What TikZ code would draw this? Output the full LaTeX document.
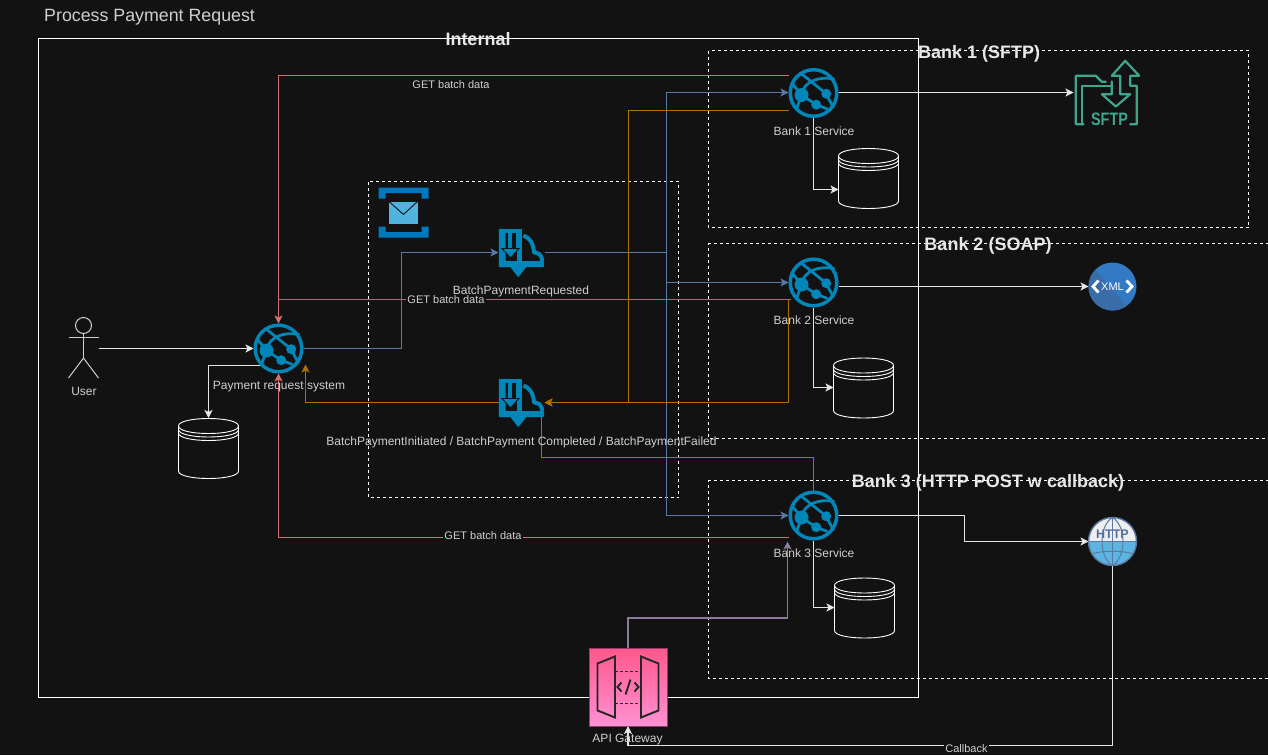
\documentclass[tikz,border=0pt]{standalone}
\usepackage{fontspec}
\setmainfont{Liberation Sans}
\usetikzlibrary{arrows.meta,calc}
\definecolor{bg}{HTML}{121212}
\definecolor{wline}{HTML}{E6E6E6}
\definecolor{lbl}{HTML}{CFCFCF}
\definecolor{grpc}{HTML}{E8E8E8}
\definecolor{redl}{HTML}{D07070}
\definecolor{redp}{HTML}{A8697A}
\definecolor{bluel}{HTML}{5A78A6}
\definecolor{orl}{HTML}{B07000}
\definecolor{purl}{HTML}{8C7C9C}
\definecolor{azure}{HTML}{0086B8}
\definecolor{grn}{HTML}{3FA58C}
\definecolor{gwedge}{HTML}{963C69}
\definecolor{gwtop}{HTML}{FF588C}
\definecolor{gwbot}{HTML}{FF91D2}
\definecolor{qdark}{HTML}{0078BE}
\definecolor{qlight}{HTML}{50B4DE}
\definecolor{xmla}{HTML}{327AC4}
\definecolor{xmlb}{HTML}{3A6CA8}
\definecolor{httpw}{HTML}{EEEEF0}
\definecolor{httpb}{HTML}{5CB4E2}
\definecolor{httpl}{HTML}{5C7AA0}
\definecolor{httpt}{HTML}{52709B}
\definecolor{gwink}{HTML}{262626}
\tikzset{
  x=1pt,y=-1pt,
  anchorbox/.style={inner sep=0pt,outer sep=0pt,minimum width=#1pt,minimum height=#1pt},
  tip/.style={-{Stealth[length=8pt,width=8pt,inset=2pt]}},
  conn/.style={line width=1.25pt},
  wconn/.style={conn,wline,tip},
  lab/.style={text=lbl,font=\fontsize{12}{14}\selectfont,inner sep=0pt},
  smalllab/.style={text=lbl,font=\fontsize{11}{12}\selectfont,inner sep=1pt,fill=bg},
  grp/.style={text=grpc,font=\bfseries\fontsize{18}{20}\selectfont,inner sep=0pt},
  dashbox/.style={draw=white,line width=1pt,dash pattern=on 3pt off 3pt},
}
\newcommand{\globeicon}[1]{%
  \begin{scope}[shift={(#1)},azure,line width=2.8pt]
    \draw[line width=3.5pt,fill=bg] (0,0) circle (23.3);
    \draw (-13,-20) -- (12.7,0.7) -- (20,15);
    \draw (-12,2) .. controls (-10,-12) and (6,-17) .. (21,-14);
    \draw (-21,-9) -- (-12,2) -- (-17,16);
    \draw (-12,2) -- (2.7,11.7) -- (14,16);
    \fill (-12,2) circle (7);
    \fill (12.7,0.7) circle (5);
    \fill (2.7,11.7) circle (5);
  \end{scope}}
\newcommand{\dbicon}[1]{%
  \begin{scope}[shift={(#1)},white,line width=0.9pt]
    \draw[fill=bg] (-30,-22) .. controls (-30,-32) and (30,-32) .. (30,-22) -- (30,23)
       .. controls (30,33) and (-30,33) .. (-30,23) -- cycle;
    \draw (-30,-22) .. controls (-30,-12) and (30,-12) .. (30,-22);
    \draw (-30,-18.5) .. controls (-30,-8.5) and (30,-8.5) .. (30,-18.5);
    \draw (-30,-15) .. controls (-30,-5) and (30,-5) .. (30,-15);
  \end{scope}}
\newcommand{\eventicon}[1]{%
  \begin{scope}[shift={(#1)},azure]
    \fill[bg] (-22.7,-23.7) rectangle (1,14.7);
    \fill[rounded corners=1pt] (-22.7,-23.7) rectangle (-16,14.7);
    \fill (-22.7,-23.7) rectangle (0.7,-19.5);
    \fill[rounded corners=1pt] (-22.7,8.7) rectangle (22.5,14.7);
    \fill (-6,-23.7) rectangle (0.7,-5);
    \fill (-4.3,-5) rectangle (0.7,16);
    \fill (-11,14.7) -- (4.7,14.7) -- (-3.3,24.7) -- cycle;
    \fill[bg] (-15,-19.5) rectangle (-8,-5);
    \fill (-13.7,-23.7) rectangle (-9.3,-4);
    \draw[bg,line width=0.9pt,fill=azure,line join=miter] (-19.5,-4) -- (-2.5,-4) -- (-11,5.5) -- cycle;
    \draw[line width=4pt,line join=round] (2,-17) .. controls (8,-15) and (12,-9) .. (12.5,0) .. controls (16,0) and (21,2) .. (20.5,9);
  \end{scope}}
\begin{document}
\begin{tikzpicture}
\useasboundingbox (0,0) rectangle (1268,755);
\fill[bg] (0,0) rectangle (1268,755);
\begin{scope}[shift={(0.5,0.5)}]

% groups
\draw[white,line width=1pt] (38,38) rectangle (918,697);
\draw[dashbox] (708,50) rectangle (1248,227);
\draw[dashbox] (1268,243) -- (708,243) -- (708,438) -- (1268,438);
\draw[dashbox] (1268,480) -- (708,480) -- (708,678) -- (1268,678);
\draw[dashbox] (368,181) rectangle (678,497);

% anchors of the elements
\node[anchorbox=30,minimum height=60pt] (user) at (83,348) {};
\node[anchorbox=50] (pay) at (278,348) {};
\node[anchorbox=60] (db0) at (208,447.5) {};
\node[anchorbox=50] (b1) at (813,92) {};
\node[anchorbox=50] (b2) at (813,282) {};
\node[anchorbox=50] (b3) at (813,515) {};
\node[anchorbox=60] (db1) at (868,177.5) {};
\node[anchorbox=60] (db2) at (863,387) {};
\node[anchorbox=60] (db3) at (864,607) {};
\node[anchorbox=66] (sftp) at (1106,92) {};
\node[anchorbox=48] (xml) at (1112,286) {};
\node[anchorbox=48] (http) at (1112,541) {};
\node[anchorbox=46,minimum height=50pt] (ev1) at (521,252) {};
\node[anchorbox=46,minimum height=50pt] (ev2) at (521,402) {};

% connectors
\draw[wconn] (user.east) -- (pay.west);
\draw[wconn] ($(pay.south)+(-18,-8)$) -| (db0.north);
\draw[conn,bluel,tip] (pay.east) -- ++(98,0) |- (ev1.west);
\draw[conn,bluel,tip] (ev1.east) -- ++(122,0) |- (b1.west);
\draw[conn,bluel,tip] (ev1.east) -- ++(122,0) |- (b2.west);
\draw[conn,bluel,tip] (ev1.east) -- ++(122,0) |- (b3.west);
\draw[conn,redl,tip] ($(b1.west)+(0,-17)$) -| (pay.north);
\draw[conn,redp] ($(b2.west)+(2,17)$) -- ($(pay.north)+(0,-24)$);
\draw[conn,redl,tip] ($(b3.west)+(0,22)$) -| (pay.south);
\draw[conn,orl,tip] ($(b1.west)+(0,18)$) -| ($(ev2.east)+(84,0)$) -- (ev2.east);
\draw[conn,orl,tip] ($(b2.west)+(0,17)$) |- (ev2.east);
\draw[conn,orl] (b3.north) |- ($(ev2.south)+(20,30)$) -- ($(ev2.east)+(-3,3)$);
\draw[conn,orl,tip] (ev2.west) -| ($(pay.east)+(2,16)$);
\draw[wconn] (b1.south) |- ($(db1.west)+(0,11.5)$);
\draw[wconn] (b2.south) |- (db2.west);
\draw[wconn] (b3.south) |- (db3.west);
\draw[wconn] (b1.east) -- (sftp.west);
\draw[wconn] ($(b2.east)+(0,4)$) -- (xml.west);
\draw[wconn] (b3.east) -- ++(126,0) |- (http.west);

\node[anchorbox=78,draw=gwedge,line width=1pt,top color=gwtop,bottom color=gwbot] (gw) at (627.5,686.5) {};
\draw[conn,purl,tip] (gw.north) -- ++(0,-30) -| ($(b3.south)+(-26,1)$);
\draw[wconn] (http.south) -- ++(0,180) -| (gw.south);

% actor
\begin{scope}[lbl,line width=1pt]
  \draw (83,325) circle (8);
  \draw (83,333) -- (83,357.5);
  \draw (68,337) -- (98,337);
  \draw (68,377.5) -- (83,357.5) -- (98,377.5);
\end{scope}

% icons
\globeicon{278,348}
\globeicon{813,92.5}
\globeicon{813,282}
\globeicon{813,515}
\dbicon{208,447.5}
\dbicon{868,177.5}
\dbicon{863,387}
\dbicon{864,607}
\eventicon{521,252}
\eventicon{521,402}

% queue icon
\fill[qdark] (378,187) rectangle (428,192.5) (378,187) rectangle (385,198) (421,187) rectangle (428,198);
\fill[qdark] (378,231.5) rectangle (428,237) (378,226) rectangle (385,237) (421,226) rectangle (428,237);
\fill[qlight] (388.5,201) rectangle (417,223);
\draw[bg,line width=0.9pt] (388.5,201) -- (403,214) -- (417,201);

% SFTP icon
\begin{scope}[grn,line width=2.2pt,line join=round,line cap=round]
  \draw (1083,123.7) -- (1075.3,123.7) -- (1075.3,75.3) -- (1095.3,75.3) -- (1101.3,81.3) -- (1105.3,81.3);
  \draw (1081.3,123.7) -- (1081.3,85.3) -- (1111.3,85.3);
  \draw (1111.3,81) -- (1111.3,93.7) -- (1101.3,93.7) -- (1115.3,106) -- (1129.7,93.7) -- (1119.7,93.7) -- (1119.7,75.3) -- (1111.3,75.3) -- (1124.7,60.3) -- (1138.7,75.3) -- (1129.7,75.3) -- (1129.7,85.3) -- (1136.3,85.3) -- (1136.3,123.7) -- (1129.7,123.7);
\end{scope}
\node[text=grn,inner sep=0pt,font=\bfseries\fontsize{18}{18}\selectfont] (sftptext) at (1109,118.5) {\scalebox{0.8}[1]{SFTP}};

% XML icon
\fill[xmla] (1112,286) circle (24);
\begin{scope}
  \clip (1112,286) circle (24);
  \fill[xmlb] (1090,264) -- (1130,310) -- (1080,320) -- (1070,280) -- cycle;
\end{scope}
\node[text=white,inner sep=0pt,font=\fontsize{11}{12}\selectfont] (xmltext) at (1112,286.5) {XML};
\draw[white,line width=2.8pt] (1098,280) -- (1092.5,286) -- (1098,292);
\draw[white,line width=2.8pt] (1126,280) -- (1131.5,286) -- (1126,292);

% HTTP icon
\begin{scope}
  \clip (1112,541) circle (24);
  \fill[httpw] (1085,515) rectangle (1140,541);
  \fill[httpb] (1085,541) rectangle (1140,568);
\end{scope}
\begin{scope}[httpl,line width=1pt]
  \draw (1088,541) -- (1136,541);
  \draw (1092,553) .. controls (1104,550) and (1120,550) .. (1132,553);
  \draw (1112,517) -- (1112,565);
  \draw (1112,517) .. controls (1098,525) and (1098,557) .. (1112,565);
  \draw (1112,517) .. controls (1126,525) and (1126,557) .. (1112,565);
  \draw[line width=1.4pt] (1112,541) circle (24);
\end{scope}
\node[text=httpt,inner sep=0pt,font=\bfseries\fontsize{12.5}{14}\selectfont] (httptext) at (1112,533.5) {HTTP};

% API gateway icon
\begin{scope}[gwink,line width=1.9pt,line join=miter]
  \draw (597,663) -- (614.5,656) -- (614.5,717) -- (597,710) -- cycle;
  \draw (640.5,656) -- (658,663) -- (658,710) -- (640.5,717) -- cycle;
  \draw[dash pattern=on 3pt off 2pt] (614.5,671) -- (640.5,671);
  \draw[dash pattern=on 3pt off 2pt] (614.5,703) -- (640.5,703);
  \draw (621,682) -- (617,686.5) -- (621,691);
  \draw (634,682) -- (638,686.5) -- (634,691);
  \draw (630,679) -- (625,694);
\end{scope}

% texts
\node[text=lbl,inner sep=0pt,anchor=west,font=\fontsize{17.8}{20}\selectfont] (title) at (43.5,16.5) {Process Payment Request};
\node[grp] (tint) at (477.5,39) {Internal};
\node[grp] (tb1) at (978.5,53) {Bank 1 (SFTP)};
\node[grp] (tb2) at (987.5,245.5) {Bank 2 (SOAP)};
\node[grp] (tb3) at (987.5,482.5) {Bank 3 (HTTP POST w callback)};
\node[lab] (luser) at (83.5,390.5) {User};
\node[lab] (lpay) at (278.5,386.5) {Payment request system};
\node[lab] (lb1) at (813.5,131) {Bank 1 Service};
\node[lab] (lb2) at (813.5,320) {Bank 2 Service};
\node[lab] (lb3) at (813.5,553) {Bank 3 Service};
\node[lab] (lev1) at (520.5,291) {BatchPaymentRequested};
\node[lab] (lev2) at (521,441.5) {BatchPaymentInitiated / BatchPayment Completed / BatchPaymentFailed};
\node[lab] (lgw) at (627,739.5) {API Gateway};
\node[smalllab] (lg1) at (450.5,84.5) {GET batch data};
\node[smalllab] (lg2) at (445.5,299.5) {GET batch data};
\node[smalllab] (lg3) at (482.5,535) {GET batch data};
\node[smalllab] (lcb) at (966,748) {Callback};
\end{scope}
\end{tikzpicture}
\end{document}
